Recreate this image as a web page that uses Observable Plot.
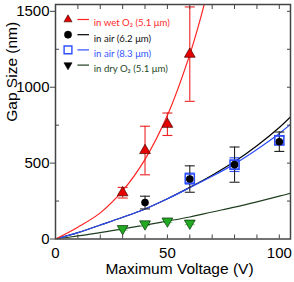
<!DOCTYPE html>
<html><head><meta charset="utf-8">
<script src="https://cdn.jsdelivr.net/npm/d3@7"></script>
<script src="https://cdn.jsdelivr.net/npm/@observablehq/plot@0.6"></script>
<style>body{margin:0;background:#fff}#chart svg{display:block}</style>
</head><body><div id="chart"></div>
<script>
// ---- data ----
const xTickLabels = [0, 50, 100];
const yTickLabels = [0, 500, 1000, 1500];
const xMinorTicks = [0, 10, 20, 30, 40, 50, 60, 70, 80, 90, 100];
const yMinorLeft = [250, 750, 1250];
const yRightTicks = [250, 500, 750, 1000, 1250, 1500];

const wetX = [30, 40, 50, 60];
const wetY = [305, 583, 756, 1218];
const wetErr = [35, 160, 74, 311];

const air62X = [40, 60, 80, 100];
const air62Y = [240, 395, 490, 641];
const air62Err = [42, 87, 116, 64];

const air83X = [60, 80, 100];
const air83Y = [398, 490, 650];
const air83Err = [36, 45, 28];

const dryX = [30, 40, 50, 60];
const dryY = [68, 99, 118, 104];
const dryErr = [10, 10, 10, 10];

const wetFitX = [0, 10, 20, 30, 40, 50, 60, 65, 68];
const wetFitY = [0, 78, 172, 318, 525, 815, 1215, 1465, 1640];
const fitX = [0, 10, 20, 30, 40, 50, 60, 70, 80, 90, 100, 105];
const air62FitY = [0, 42, 92, 143, 198, 265, 340, 420, 510, 615, 735, 805];
const air83FitY = [0, 42, 92, 143, 198, 265, 338, 413, 495, 590, 695, 755];
const dryFitY = [0, 20, 42, 67, 92, 118, 145, 178, 210, 245, 282, 302];

const legendLabels = ["in wet O\u2082 (5.1 \u03bcm)", "in air (6.2 \u03bcm)", "in air (8.3 \u03bcm)", "in dry O\u2082 (5.1 \u03bcm)"];
const legendText = ["#ff2a2a", "#111111", "#3355ff", "#1f4a1f"];
const lineColors = ["#ff2222", "#000000", "#2f4fff", "#1f3f1f"];

// ---- helpers ----
const rows = (xs, ys, es) => xs.map((x, i) => ({x, y: ys[i], lo: ys[i] - es[i], hi: ys[i] + es[i]}));
const fit = (xs, ys) => xs.map((x, i) => ({x, y: ys[i]}));
const hline = {draw(ctx, size) { const w = Math.sqrt(size / Math.PI); ctx.moveTo(-w, 0); ctx.lineTo(w, 0); }};

const wet = rows(wetX, wetY, wetErr);
const a62 = rows(air62X, air62Y, air62Err);
const a83 = rows(air83X, air83Y, air83Err);
const dry = rows(dryX, dryY, dryErr);

function errBars(data, color, w) {
  return [
    Plot.ruleX(data, {x: "x", y1: "lo", y2: "hi", stroke: color, strokeWidth: w}),
    Plot.dot(data, {x: "x", y: "lo", symbol: hline, r: 5, stroke: color, strokeWidth: w}),
    Plot.dot(data, {x: "x", y: "hi", symbol: hline, r: 5, stroke: color, strokeWidth: w})
  ];
}

const legendFont = "Lato, 'Open Sans', sans-serif";
const legendSymbols = [
  {symbol: "triangle", r: 3, fill: "#e60000", stroke: "#300", rotate: 0},
  {symbol: "circle", r: 3.6, fill: "#000", stroke: "#000", rotate: 0},
  {symbol: "square", r: 4.4, fill: "none", stroke: "#2f4fff", rotate: 0},
  {symbol: "triangle", r: 3, fill: "#000", stroke: "#000", rotate: 180}
];
const legendMarks = legendLabels.flatMap((label, i) => {
  const dy = 15 + i * 15.2;
  const s = legendSymbols[i];
  return [
    Plot.dot([label], {frameAnchor: "top-left", dx: 12.5, dy, symbol: s.symbol, r: s.r, fill: s.fill, stroke: s.stroke, strokeWidth: s.fill === "none" ? 1.4 : 0.6, rotate: s.rotate}),
    Plot.dot([label], {frameAnchor: "top-left", dx: 27.7, dy, symbol: hline, r: 5.8, stroke: lineColors[i], strokeWidth: 1.2}),
    Plot.text([label], {frameAnchor: "top-left", dx: 38.3, dy, text: d => d, textAnchor: "start", fill: legendText[i], fontSize: 9.6, fontFamily: legendFont})
  ];
});

const chart = Plot.plot({
  width: 294,
  height: 282,
  marginLeft: 55,
  marginRight: 4,
  marginTop: 4,
  marginBottom: 43.5,
  style: {fontFamily: "Arial, sans-serif", fontSize: "15px", background: "#fff", color: "#000"},
  x: {domain: [0, 105]},
  y: {domain: [0, 1545]},
  marks: [
    // fit curves
    Plot.line(fit(fitX, dryFitY), {x: "x", y: "y", stroke: lineColors[3], strokeWidth: 1.2, curve: "catmull-rom", clip: true}),
    Plot.line(fit(fitX, air62FitY), {x: "x", y: "y", stroke: lineColors[1], strokeWidth: 1.2, curve: "catmull-rom", clip: true}),
    Plot.line(fit(fitX, air83FitY), {x: "x", y: "y", stroke: lineColors[2], strokeWidth: 1.2, curve: "catmull-rom", clip: true}),
    Plot.line(fit(wetFitX, wetFitY), {x: "x", y: "y", stroke: lineColors[0], strokeWidth: 1.2, curve: "catmull-rom", clip: true}),
    // error bars
    ...errBars(dry, "#7fd07f", 1),
    ...errBars(a83, "#3355ff", 1.2),
    ...errBars(a62, "#222", 1.1),
    ...errBars(wet, "#ee2222", 1.1),
    // markers
    Plot.dot(dry, {x: "x", y: "y", symbol: "triangle", rotate: 180, r: 4, fill: "#22aa22", stroke: "#0a300a", strokeWidth: 0.7}),
    Plot.dot(a83, {x: "x", y: "y", symbol: "square", r: 5.1, fill: "none", stroke: "#2f4fff", strokeWidth: 1.6}),
    Plot.dot(a62, {x: "x", y: "y", symbol: "circle", r: 3.8, fill: "#000"}),
    Plot.dot(wet, {x: "x", y: "y", symbol: "triangle", r: 4, fill: "#e60000", stroke: "#400", strokeWidth: 0.7}),
    // axes
    Plot.axisY({ticks: yTickLabels, tickFormat: d => String(d), tickSize: 5, tickPadding: 1, fontSize: 15, fontFamily: "Arial", label: null, stroke: "#444"}),
    Plot.axisY({ticks: yMinorLeft, tickSize: -4, tickFormat: () => "", label: null, stroke: "#444"}),
    Plot.axisY({anchor: "right", ticks: yRightTicks, tickSize: -4, tickFormat: () => "", label: null, stroke: "#444"}),
    Plot.axisX({anchor: "top", ticks: xMinorTicks, tickSize: -4, tickFormat: () => "", label: null, stroke: "#444"}),
    Plot.axisX({ticks: xMinorTicks, tickSize: -4, tickFormat: () => "", label: null, stroke: "#444"}),
    Plot.axisX({ticks: xTickLabels, tickFormat: d => String(d), tickSize: 0, tickPadding: 8, fontSize: 15, fontFamily: "Arial", label: null}),
    Plot.frame({stroke: "#444", strokeWidth: 1.5}),
    Plot.text(["Maximum Voltage (V)"], {frameAnchor: "bottom", dx: 6.5, dy: 35, text: d => d, fontSize: 15.5, fontFamily: "Arial", fontWeight: "normal", fill: "#000"}),
    Plot.text(["Gap Size (nm)"], {frameAnchor: "left", dx: -43, rotate: -90, text: d => d, fontSize: 15.5, fontFamily: "Arial", fontWeight: "normal", fill: "#000"}),
    ...legendMarks
  ]
});
document.getElementById("chart").appendChild(chart);
</script></body></html>
